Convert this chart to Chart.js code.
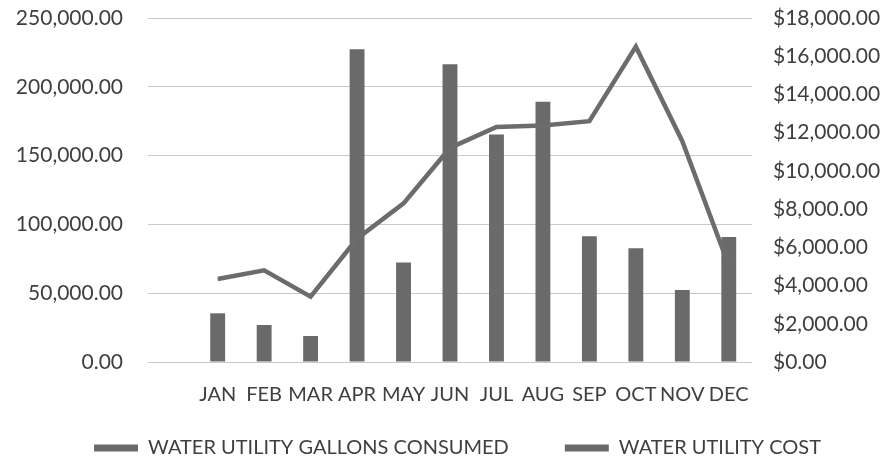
<!DOCTYPE html>
<html>
<head>
<meta charset="utf-8">
<script src="https://cdn.jsdelivr.net/npm/chart.js@4/dist/chart.umd.min.js"></script>
<style>
  html, body { margin: 0; padding: 0; background: #ffffff; }
  #wrap { width: 889px; height: 461px; position: relative; }
</style>
</head>
<body>
<div id="wrap"><canvas id="c" width="889" height="461"></canvas></div>
<script>
// Leading blank category reproduces the empty slot at the left of the original plot
const categories = ["", "JAN", "FEB", "MAR", "APR", "MAY", "JUN", "JUL", "AUG", "SEP", "OCT", "NOV", "DEC"];
const gallonsConsumed = [null, 35400, 26900, 18900, 227300, 72400, 216300, 165400, 189200, 91300, 82600, 52300, 90800];
const utilityCost = [null, 4340, 4800, 3420, 6450, 8300, 11200, 12300, 12380, 12600, 16500, 11550, 5050];
const leftTicks = [0, 50000, 100000, 150000, 200000, 250000];
const rightTicks = [0, 2000, 4000, 6000, 8000, 10000, 12000, 14000, 16000, 18000];
const seriesNames = ["WATER UTILITY GALLONS CONSUMED", "WATER UTILITY COST"];

const textColor = "#3f3f3f";
const fontFamily = "Lato, 'Open Sans', sans-serif";

const fmt2 = v => v.toLocaleString("en-US", { minimumFractionDigits: 2, maximumFractionDigits: 2 });

// places the legend's frame so the row sits where the original has it
const legendPlace = {
  id: "legendPlace",
  afterLayout(chart) {
    const lg = chart.legend;
    if (!lg) return;
    lg.left = 26;
    lg.top = chart.height - 79;
    lg.bottom = chart.height;
  }
};

function fixWidth(w) {
  return scale => {
    scale.width = w;
    scale.paddingTop = 0;
    scale.paddingBottom = 0;
  };
}

new Chart(document.getElementById("c"), {
  data: {
    labels: categories,
    datasets: [
      {
        type: "line",
        label: seriesNames[1],
        data: utilityCost,
        yAxisID: "yRight",
        borderColor: "#6c6c6c",
        backgroundColor: "#6c6c6c",
        borderWidth: 4.5,
        pointRadius: 0,
        tension: 0,
        order: 0
      },
      {
        type: "bar",
        label: seriesNames[0],
        data: gallonsConsumed,
        yAxisID: "yLeft",
        backgroundColor: "#6a6a6a",
        borderWidth: 0,
        barPercentage: 0.32,
        categoryPercentage: 1.0,
        order: 1
      }
    ]
  },
  plugins: [legendPlace],
  options: {
    responsive: false,
    animation: false,
    layout: { autoPadding: false, padding: { top: 18, left: 0, right: 0, bottom: 0 } },
    plugins: {
      tooltip: { enabled: false },
      legend: {
        position: "bottom",
        reverse: true,
        maxHeight: 49,
        labels: {
          color: textColor,
          font: { family: fontFamily, size: 20 },
          boxWidth: 44,
          boxHeight: 7,
          padding: 56,
          generateLabels(chart) {
            const items = Chart.defaults.plugins.legend.labels.generateLabels(chart);
            items.forEach(it => { it.lineWidth = 0; it.fillStyle = "#6a6a6a"; });
            return items;
          }
        }
      }
    },
    scales: {
      x: {
        type: "category",
        offset: true,
        grid: { display: false, drawTicks: false },
        border: { display: false },
        ticks: {
          color: textColor,
          font: { family: fontFamily, size: 20 },
          autoSkip: false,
          maxRotation: 0,
          minRotation: 0,
          padding: 21
        },
        afterFit(scale) { scale.height = 50; }
      },
      yLeft: {
        type: "linear",
        position: "left",
        min: 0,
        max: 250000,
        afterBuildTicks(scale) { scale.ticks = leftTicks.map(v => ({ value: v })); },
        grid: { color: "#c9c9c9", lineWidth: 1, drawTicks: false },
        border: { display: false },
        ticks: {
          color: textColor,
          font: { family: fontFamily, size: 21 },
          padding: 25,
          callback: v => fmt2(v)
        },
        afterFit: fixWidth(148)
      },
      yRight: {
        type: "linear",
        position: "right",
        min: 0,
        max: 18000,
        afterBuildTicks(scale) { scale.ticks = rightTicks.map(v => ({ value: v })); },
        grid: { display: false, drawTicks: false },
        border: { display: false },
        ticks: {
          color: textColor,
          font: { family: fontFamily, size: 21 },
          padding: 21,
          callback: v => "$" + fmt2(v)
        },
        afterFit: fixWidth(137)
      }
    }
  }
});
</script>
</body>
</html>
